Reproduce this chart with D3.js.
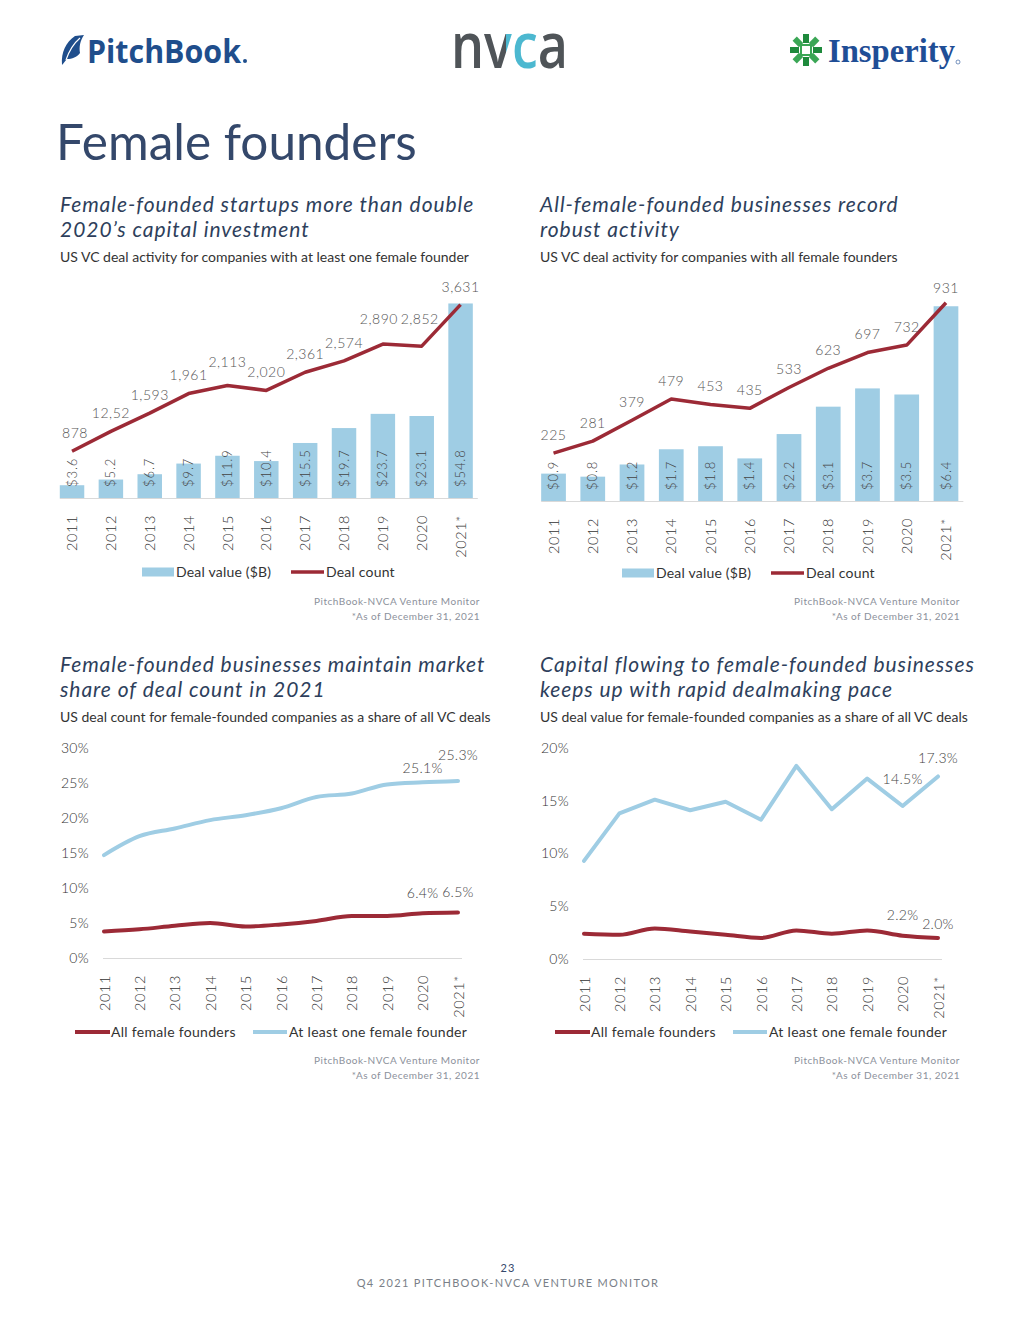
<!DOCTYPE html>
<html><head><meta charset="utf-8">
<script src="https://cdn.jsdelivr.net/npm/d3@7"></script>
<style>
html,body{margin:0;padding:0;background:#fff;}
svg{display:block;font-family:Lato,"Open Sans",sans-serif;}
</style></head>
<body>
<svg id="page" width="1020" height="1320"></svg>
<script>
// ---------------- DATA ----------------
const years = ["2011","2012","2013","2014","2015","2016","2017","2018","2019","2020","2021*"];

// Chart 1: at least one female founder
const anyFemaleDealValue = [3.6, 5.2, 6.7, 9.7, 11.9, 10.4, 15.5, 19.7, 23.7, 23.1, 54.8];
const anyFemaleDealCount = [878, 1252, 1593, 1961, 2113, 2020, 2361, 2574, 2890, 2852, 3631];
const anyFemaleCountLabels = ["878","12,52","1,593","1,961","2,113","2,020","2,361","2,574","2,890","2,852","3,631"];

// Chart 2: all female founders
const allFemaleDealValue = [0.9, 0.8, 1.2, 1.7, 1.8, 1.4, 2.2, 3.1, 3.7, 3.5, 6.4];
const allFemaleDealCount = [225, 281, 379, 479, 453, 435, 533, 623, 697, 732, 931];
const allFemaleCountLabels = ["225","281","379","479","453","435","533","623","697","732","931"];

// Chart 3: share of deal count (%)
const countShareAll = [3.8, 4.1, 4.6, 5.0, 4.5, 4.8, 5.3, 6.0, 6.0, 6.4, 6.5];
const countShareAny = [14.7, 17.4, 18.5, 19.7, 20.4, 21.4, 23.0, 23.5, 24.8, 25.1, 25.3];
const countShareTicks = [0, 5, 10, 15, 20, 25, 30];

// Chart 4: share of deal value (%)
const valueShareAll = [2.4, 2.3, 2.9, 2.6, 2.3, 2.0, 2.7, 2.4, 2.7, 2.2, 2.0];
const valueShareAny = [9.3, 13.8, 15.1, 14.1, 14.9, 13.2, 18.3, 14.2, 17.1, 14.5, 17.3];
const valueShareTicks = [0, 5, 10, 15, 20];

const seriesNames = ["All female founders", "At least one female founder"];
const comboLegend = ["Deal value ($B)", "Deal count"];

// ---------------- STYLE ----------------
const RED = "#9c2a36", BLUE = "#9fcde4", GRID = "#d9d9d9";
const TITLE_C = "#34486b", SUB_C = "#333333", LABEL_C = "#555555", SRC_C = "#8c919b";

const svg = d3.select("#page");
const defs = svg.append("defs");

// ---------------- HEADER ----------------
// PitchBook logo
const pb = svg.append("g");
pb.append("path")
  .attr("d","M62,65 C61,52 66,42 75,36 L84,35 C80,41 79,47 80,53 C77,57 72,59 67,59 C65,61 64,63 62,65 Z")
  .attr("fill","#1f4e8c");
pb.append("path").attr("d","M66,60 C69,51 73,44 80,38").attr("stroke","#fff").attr("stroke-width",1.2).attr("fill","none");
pb.append("text").attr("x",87).attr("y",63).attr("font-size",33).attr("font-weight",700)
  .attr("fill","#1f4e8c").attr("textLength",154).attr("lengthAdjust","spacingAndGlyphs")
  .style("font-family","'Open Sans',Lato,sans-serif").text("PitchBook");
pb.append("circle").attr("cx",245).attr("cy",61).attr("r",2).attr("fill","#1f4e8c");

// NVCA logo: single text, colour split by a hard-stop gradient
const grad = defs.append("linearGradient").attr("id","nvcaGrad").attr("gradientUnits","userSpaceOnUse")
  .attr("x1",451).attr("x2",568).attr("y1",0).attr("y2",0);
[[0,"#4f5458"],[0.47,"#4f5458"],[0.47,"#4cb8d0"],[0.75,"#4cb8d0"],[0.75,"#4f5458"],[1,"#4f5458"]]
  .forEach(([o,c])=>grad.append("stop").attr("offset",o).attr("stop-color",c));
svg.append("text").attr("x",451).attr("y",68).attr("font-size",64).attr("font-weight",600)
  .attr("fill","url(#nvcaGrad)").attr("textLength",117).attr("lengthAdjust","spacingAndGlyphs")
  .style("font-family","'Open Sans',Lato,sans-serif").text("nvca");

// Insperity logo
const ins = svg.append("g");
const icon = ins.append("g").attr("transform","translate(806,50)");
[0,45,90,135,180,225,270,315].forEach((a,i)=>{
  icon.append("rect").attr("x",-3).attr("y",-16).attr("width",6).attr("height",9)
    .attr("fill", i%2 ? "#3aa655" : "#1e8a3c").attr("transform",`rotate(${a})`);
});
icon.append("rect").attr("x",-5).attr("y",-5).attr("width",10).attr("height",10).attr("fill","none")
  .attr("stroke","#3aa655").attr("stroke-width",2);
ins.append("text").attr("x",828).attr("y",62).attr("font-size",33).attr("font-weight",700)
  .attr("fill","#1f4e96").attr("textLength",127).attr("lengthAdjust","spacingAndGlyphs")
  .style("font-family","'Liberation Serif','DejaVu Serif',serif").text("Insperity");
ins.append("circle").attr("cx",958).attr("cy",62).attr("r",2).attr("fill","none").attr("stroke","#1f4e96").attr("stroke-width",0.6);

// Page title
svg.append("text").attr("x",56).attr("y",160).attr("font-size",49.5).attr("fill",TITLE_C)
  .text("Female founders");

// ---------------- HELPERS ----------------
function titleBlock(x, y, lines, sub){
  const g = svg.append("g");
  lines.forEach((l,i)=>{
    g.append("text").attr("x",x).attr("y",y+i*25.5).attr("font-size",21).attr("font-style","italic")
      .attr("letter-spacing",0.95).attr("fill","#2e3f5c").text(l);
  });
  g.append("text").attr("x",x).attr("y",y+50.5).attr("font-size",14).attr("fill",SUB_C).text(sub);
}
function source(xr, y){
  svg.append("text").attr("x",xr).attr("y",y).attr("text-anchor","end").attr("font-size",10)
    .attr("letter-spacing",0.5).attr("fill",SRC_C).text("PitchBook-NVCA Venture Monitor");
  svg.append("text").attr("x",xr).attr("y",y+15).attr("text-anchor","end").attr("font-size",10)
    .attr("letter-spacing",0.5).attr("fill",SRC_C).text("*As of December 31, 2021");
}

function comboChart(o){
  const g = svg.append("g");
  const x = d3.scaleBand().domain(years).range([o.x0, o.x1]).paddingInner(0.37).paddingOuter(0.185);
  const yV = d3.scaleLinear().domain([0, o.maxV]).range([o.base, o.top]);
  const yC = d3.scaleLinear().domain([0, o.maxC]).range([o.base, o.top]);
  // bars
  g.selectAll("rect.bar").data(o.values).join("rect")
    .attr("x",(d,i)=>x(years[i])).attr("width",x.bandwidth())
    .attr("y",d=>yV(d)).attr("height",d=>o.base-yV(d)).attr("fill",BLUE);
  // baseline
  g.append("line").attr("x1",x(years[0])).attr("x2",x(years[years.length-1])+x.bandwidth()+5)
    .attr("y1",o.base+0.5).attr("y2",o.base+0.5).attr("stroke",GRID).attr("stroke-width",1.2);
  // bar labels
  g.selectAll("text.bl").data(o.values).join("text")
    .attr("transform",(d,i)=>`translate(${x(years[i])+x.bandwidth()/2},${o.base-11}) rotate(-90)`)
    .attr("dy","0.35em").attr("font-size",13).attr("font-weight",300).attr("letter-spacing",0.9)
    .attr("fill","#444").text(d=>"$"+d.toFixed(1));
  // line
  const line = d3.line().x((d,i)=>x(years[i])+x.bandwidth()/2).y(d=>yC(d));
  g.append("path").datum(o.counts).attr("d",line).attr("fill","none").attr("stroke",RED)
    .attr("stroke-width",3.5).attr("stroke-linejoin","round");
  // count labels
  g.selectAll("text.cl").data(o.counts).join("text")
    .attr("x",(d,i)=>x(years[i])+x.bandwidth()/2+(o.nudge[i]?o.nudge[i][0]:0))
    .attr("y",(d,i)=>yC(d)-18+(o.nudge[i]?o.nudge[i][1]:0))
    .attr("dy","0.35em").attr("text-anchor","middle").attr("font-size",14).attr("font-weight",300)
    .attr("letter-spacing",0.5).attr("fill",LABEL_C).text((d,i)=>o.labels[i]);
  // x axis
  const ax = g.append("g").attr("transform",`translate(0,${o.base})`)
    .call(d3.axisBottom(x).tickSize(0));
  ax.select(".domain").remove();
  ax.selectAll("text").attr("transform","rotate(-90)").attr("x",-17).attr("y",0).attr("dy","0.35em")
    .style("text-anchor","end").attr("font-size",14.5).attr("font-weight",300)
    .attr("letter-spacing",0.6).attr("fill","#333").style("font-family","Lato,sans-serif");
  // legend
  const lg = g.append("g").attr("transform",`translate(${o.legX},${o.legY})`);
  lg.append("rect").attr("x",0).attr("y",-4.5).attr("width",32).attr("height",9).attr("fill",BLUE);
  lg.append("text").attr("x",34).attr("y",0).attr("dy","0.35em").attr("font-size",14)
    .attr("letter-spacing",0.2).attr("fill","#333").text(comboLegend[0]);
  lg.append("line").attr("x1",149).attr("x2",182).attr("y1",0).attr("y2",0).attr("stroke",RED).attr("stroke-width",3.5);
  lg.append("text").attr("x",184).attr("y",0).attr("dy","0.35em").attr("font-size",14)
    .attr("letter-spacing",0.2).attr("fill","#333").text(comboLegend[1]);
}

function lineChart(o){
  const g = svg.append("g");
  const x = d3.scalePoint().domain(years).range([o.x0, o.x1]);
  const y = d3.scaleLinear().domain([0, o.ticks[o.ticks.length-1]]).range([o.base, o.top]);
  g.append("line").attr("x1",o.x0-1).attr("x2",o.x1+4).attr("y1",o.base+0.5).attr("y2",o.base+0.5)
    .attr("stroke",GRID).attr("stroke-width",1.2);
  const ay = g.append("g").attr("transform",`translate(${o.yAxisX},0)`)
    .call(d3.axisLeft(y).tickValues(o.ticks).tickSize(0).tickFormat(d=>d+"%"));
  ay.select(".domain").remove();
  ay.selectAll("text").attr("x",0).attr("font-size",14).attr("font-weight",300).attr("fill","#333")
    .attr("letter-spacing",0.3).style("font-family","Lato,sans-serif");
  const series = [
    {vals:o.any, color:BLUE, curve:o.anyCurve, lab:o.anyLab},
    {vals:o.all, color:RED, curve:o.allCurve, lab:o.allLab}
  ];
  series.forEach(s=>{
    const line = d3.line().x((d,i)=>x(years[i])).y(d=>y(d)).curve(s.curve);
    g.append("path").datum(s.vals).attr("d",line).attr("fill","none").attr("stroke",s.color)
      .attr("stroke-width",4).attr("stroke-linejoin","round").attr("stroke-linecap","round");
    s.lab.forEach(([idx,dy])=>{
      g.append("text").attr("x",x(years[idx])).attr("y",y(s.vals[idx])+dy).attr("dy","0.35em")
        .attr("text-anchor","middle").attr("font-size",14).attr("font-weight",300).attr("letter-spacing",0.3)
        .attr("fill","#444").text(s.vals[idx].toFixed(1)+"%");
    });
  });
  const ax = g.append("g").attr("transform",`translate(0,${o.base})`).call(d3.axisBottom(x).tickSize(0));
  ax.select(".domain").remove();
  ax.selectAll("text").attr("transform","rotate(-90)").attr("x",-17).attr("y",0).attr("dy","0.35em")
    .style("text-anchor","end").attr("font-size",14.5).attr("font-weight",300)
    .attr("letter-spacing",0.6).attr("fill","#333").style("font-family","Lato,sans-serif");
  // legend
  const lg = g.append("g").attr("transform",`translate(${o.legX},${o.legY})`);
  lg.append("line").attr("x1",0).attr("x2",35).attr("y1",0).attr("y2",0).attr("stroke",RED).attr("stroke-width",4);
  lg.append("text").attr("x",36).attr("y",0).attr("dy","0.35em").attr("font-size",14).attr("letter-spacing",0.3)
    .attr("fill","#333").text(seriesNames[0]);
  lg.append("line").attr("x1",178).attr("x2",212).attr("y1",0).attr("y2",0).attr("stroke",BLUE).attr("stroke-width",4);
  lg.append("text").attr("x",214).attr("y",0).attr("dy","0.35em").attr("font-size",14).attr("letter-spacing",0.3)
    .attr("fill","#333").text(seriesNames[1]);
}

// ---------------- CHARTS ----------------
titleBlock(60, 211.5, ["Female-founded startups more than double","2020\u2019s capital investment"],
  "US VC deal activity for companies with at least one female founder");
comboChart({x0:52.6, x1:480, base:498, top:285, values:anyFemaleDealValue, counts:anyFemaleDealCount,
  labels:anyFemaleCountLabels, maxV:60, maxC:4000,
  nudge:{0:[3,0],4:[0,-5],8:[-4,-7],9:[-2,-9]}, legX:142, legY:572});
source(480, 605);

titleBlock(540, 211.5, ["All-female-founded businesses record","robust activity"],
  "US VC deal activity for companies with all female founders");
comboChart({x0:533.9, x1:965.6, base:501, top:288, values:allFemaleDealValue, counts:allFemaleDealCount,
  labels:allFemaleCountLabels, maxV:7, maxC:1000, nudge:{10:[0,3]}, legX:622, legY:573});
source(960, 605);

titleBlock(60, 671.5, ["Female-founded businesses maintain market","share of deal count in 2021"],
  "US deal count for female-founded companies as a share of all VC deals");
lineChart({x0:104, x1:458, base:958, top:748, yAxisX:89, ticks:countShareTicks,
  all:countShareAll, any:countShareAny, allCurve:d3.curveMonotoneX, anyCurve:d3.curveMonotoneX,
  allLab:[[9,-20],[10,-20]], anyLab:[[9,-14],[10,-26]], legX:75, legY:1032});
source(480, 1064);

titleBlock(540, 671.5, ["Capital flowing to female-founded businesses","keeps up with rapid dealmaking pace"],
  "US deal value for female-founded companies as a share of all VC deals");
lineChart({x0:584, x1:938, base:959, top:748, yAxisX:569, ticks:valueShareTicks,
  all:valueShareAll, any:valueShareAny, allCurve:d3.curveMonotoneX, anyCurve:d3.curveLinear,
  allLab:[[9,-21],[10,-14]], anyLab:[[9,-27],[10,-18]], legX:555, legY:1032});
source(960, 1064);

// ---------------- FOOTER ----------------
svg.append("text").attr("x",508).attr("y",1272).attr("text-anchor","middle").attr("font-size",11)
  .attr("letter-spacing",1).attr("fill","#34486b").text("23");
svg.append("text").attr("x",508).attr("y",1287).attr("text-anchor","middle").attr("font-size",11)
  .attr("letter-spacing",1.35).attr("fill","#7a7f88").text("Q4 2021 PITCHBOOK-NVCA VENTURE MONITOR");
</script>
</body></html>
